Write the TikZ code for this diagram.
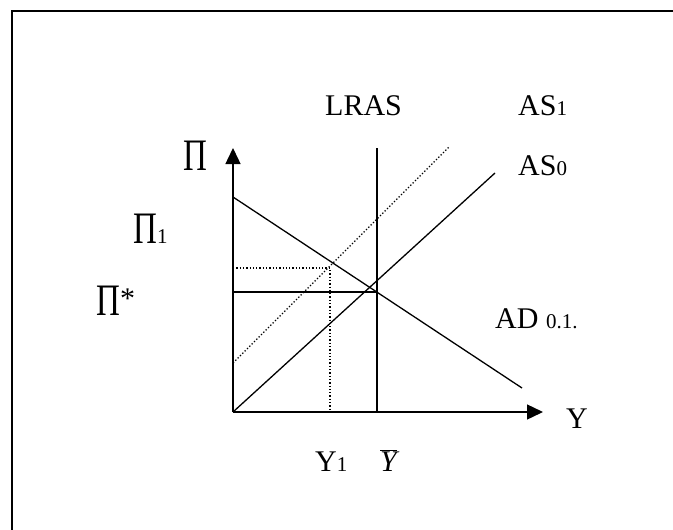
\documentclass[tikz,border=0pt]{standalone}
\usepackage{fontspec}
\setmainfont{Liberation Serif}
\usepackage{graphicx}
\usetikzlibrary{arrows.meta}

\newcommand{\bigPi}{\scalebox{1.1}[1.5]{Π}}
\newcommand{\smalldig}[1]{{\fontsize{21}{21}\selectfont #1}}

\begin{document}
\begin{tikzpicture}[
    x=1pt, y=-1pt,
    lbl/.style={anchor=base west, inner sep=0pt, font=\fontsize{30}{30}\selectfont},
    axis/.style={line width=1.4pt, -{Triangle[length=16pt,width=15pt]}},
    curve/.style={line width=1.3pt},
    guide/.style={line width=1.3pt, dash pattern=on 1.3pt off 2pt}
  ]
    \useasboundingbox (0,0) rectangle (673,530);

    % Frame
    \draw[line width=1.6pt] (12,530) -- (12,11) -- (673,11);

    % Key points
    \coordinate (O) at (233,412);
    \coordinate (ytop) at (233,148);
    \coordinate (xend) at (543,412);
    \coordinate (lrasT) at (377,148);
    \coordinate (lrasB) at (377,412);
    \coordinate (adA) at (233,197);
    \coordinate (adB) at (522,388);
    \coordinate (as0T) at (495,173);
    \coordinate (as1A) at (233,363);
    \coordinate (as1B) at (449,147);
    \coordinate (pstar) at (233,292);
    \coordinate (eq) at (377,292);
    \coordinate (pone) at (233,268);
    \coordinate (eqone) at (330,268);
    \coordinate (yone) at (330,412);

    % Axes
    \draw[axis] (O) -- (ytop);
    \draw[axis] (O) -- (xend);

    % Curves
    \draw[curve] (lrasB) -- (lrasT);
    \draw[curve] (adA) -- (adB);
    \draw[curve] (O) -- (as0T);
    \draw[guide] (as1A) -- (as1B);
    \draw[curve] (pstar) -- (eq);
    \draw[guide] (pone) -- (eqone) -- (yone);

    % Labels
    \node[lbl] (lras) at (325,115) {LRAS};
    \node[lbl] (as1) at (518,115) {AS\smalldig{1}};
    \node[lbl] (as0) at (518,175) {AS\smalldig{0}};
    \node[lbl] (pi) at (183,170) {\bigPi};
    \node[lbl] (pi1) at (133,243) {\bigPi\smalldig{1}};
    \node[lbl] (pis) at (96,315) {\bigPi\raisebox{7pt}{*}};
    \node[lbl] (ad) at (495,328) {AD \smalldig{0.1.}};
    \node[lbl] (yax) at (566,428) {Y};
    \node[lbl] (y1) at (315,471) {Y\smalldig{1}};
    \node[lbl] (ybar) at (380,471) {$\overline{\mbox{\itshape Y}}$};

  \end{tikzpicture}
\end{document}
